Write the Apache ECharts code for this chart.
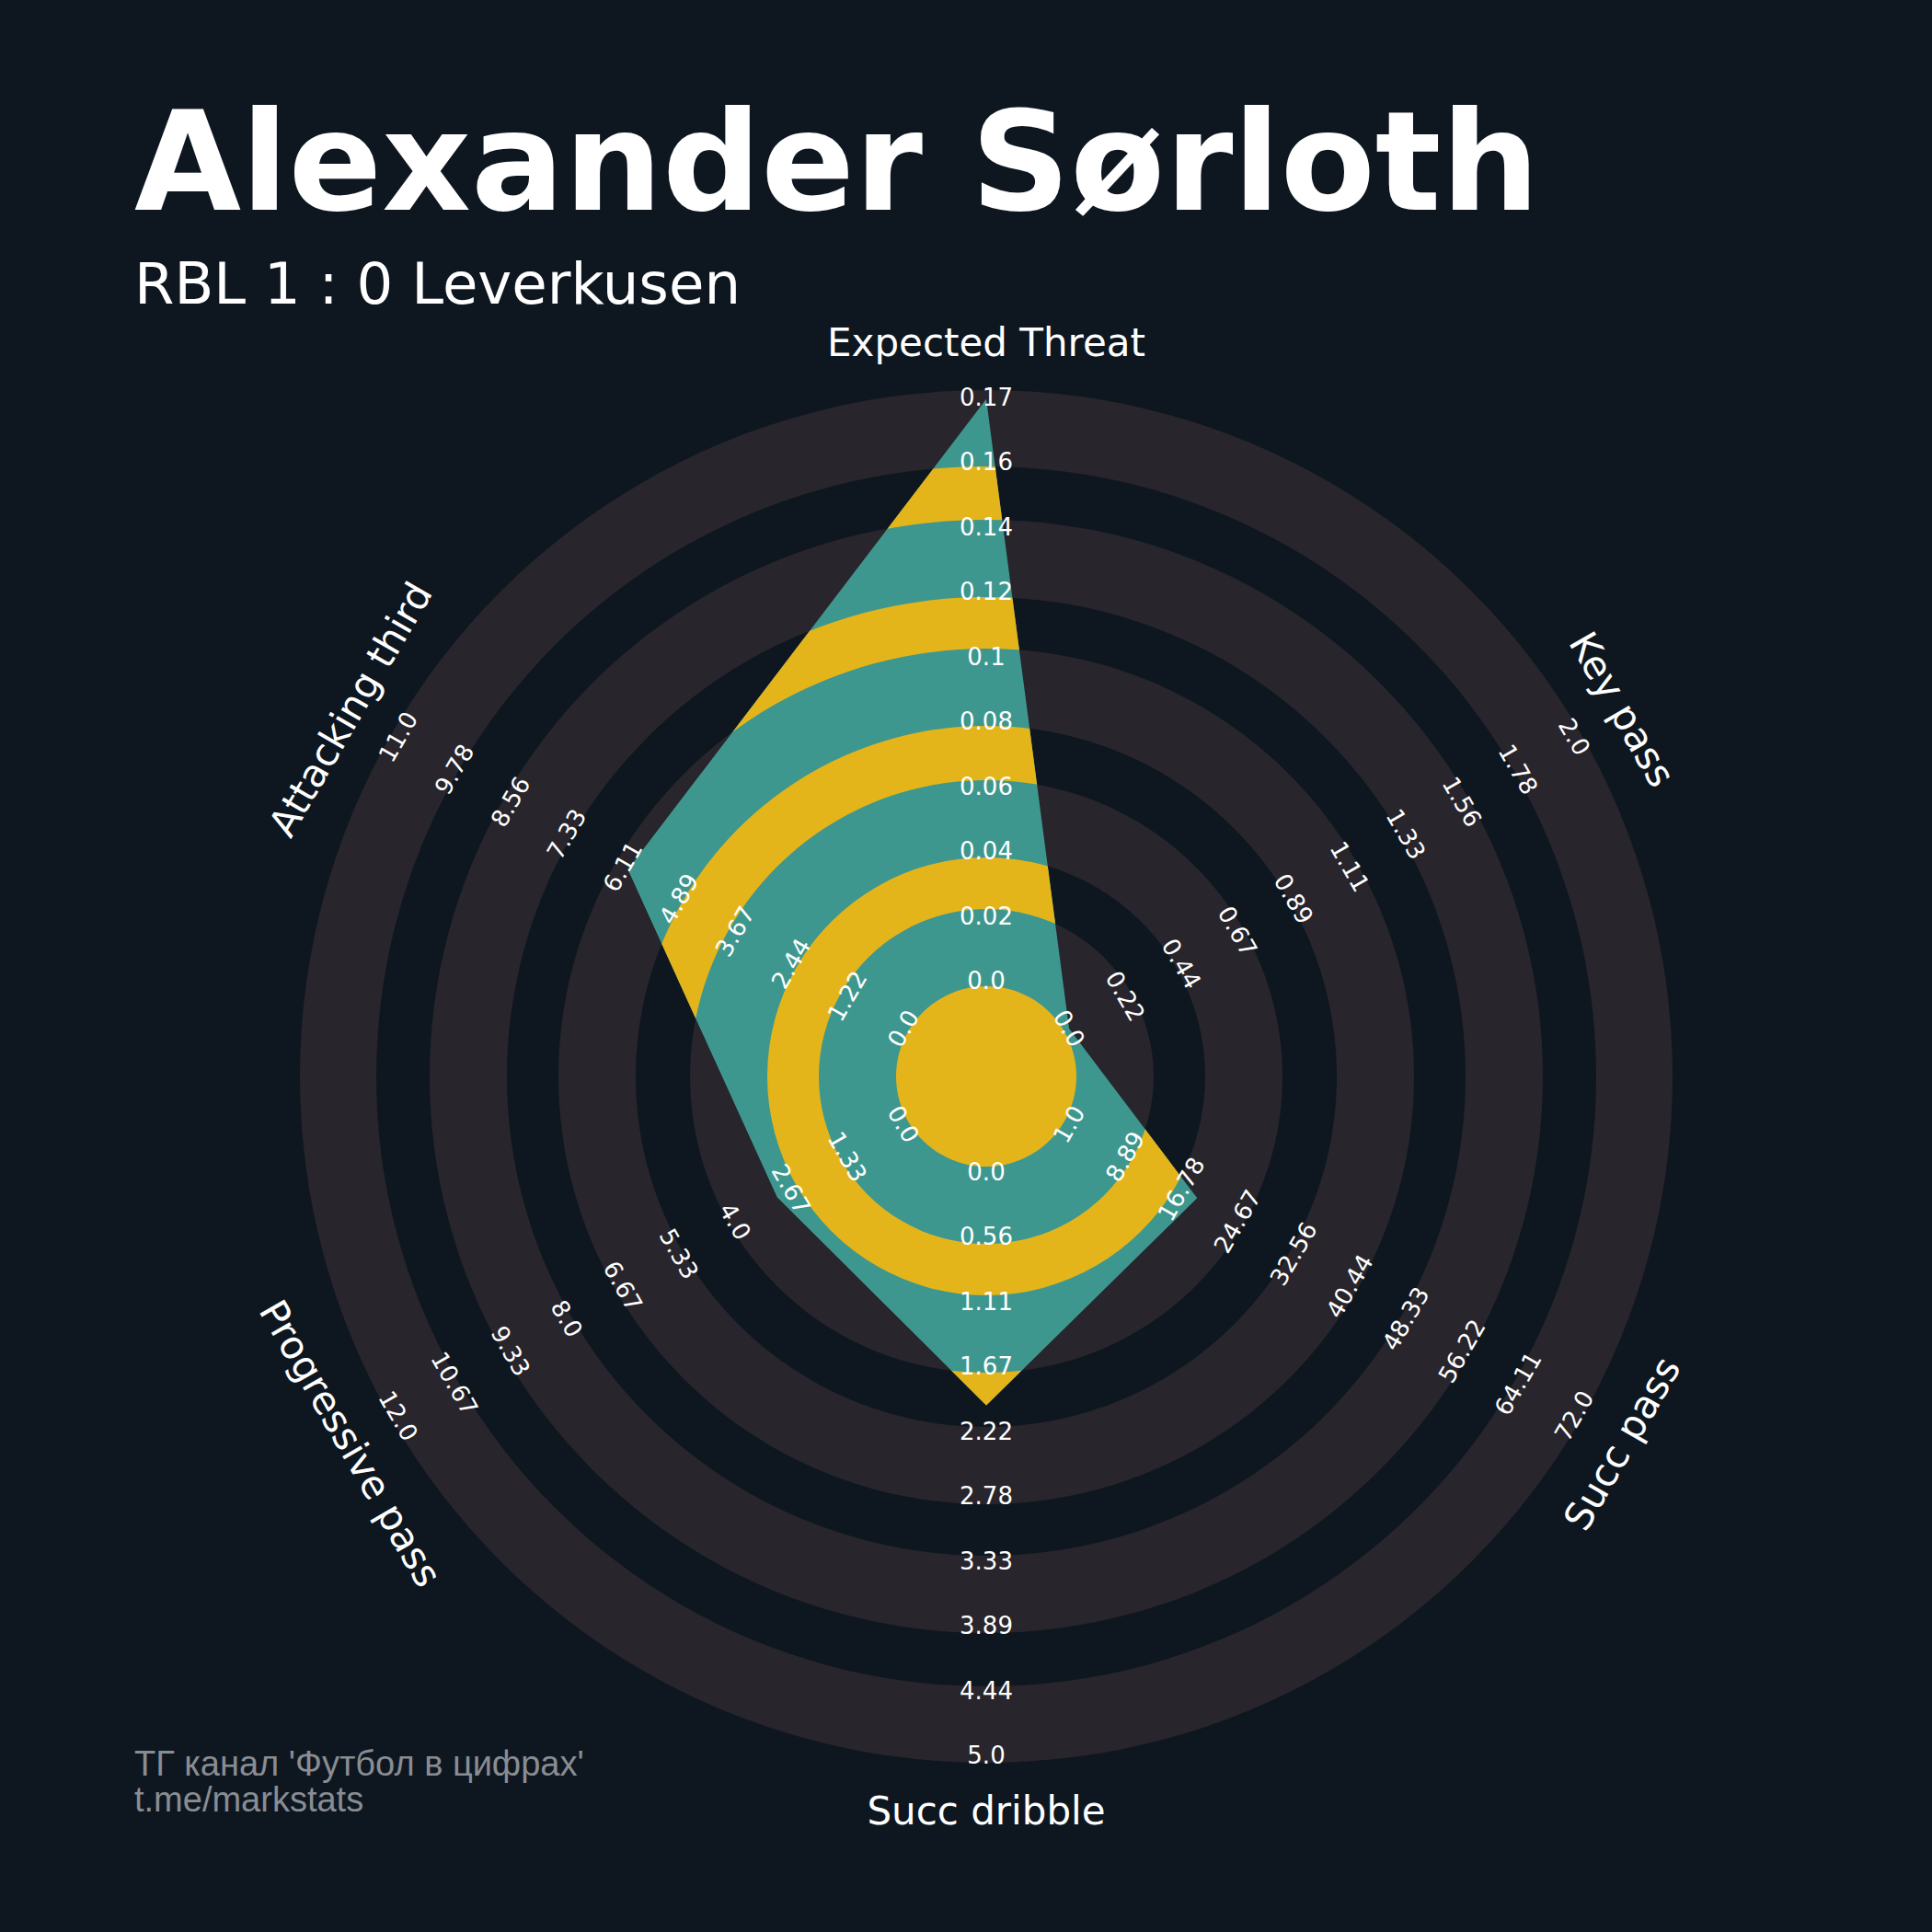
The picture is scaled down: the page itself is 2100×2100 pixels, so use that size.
<!DOCTYPE html>
<html>
<head>
<meta charset="utf-8">
<title>Alexander Sørloth</title>
<script src="https://cdn.jsdelivr.net/npm/echarts@6/dist/echarts.min.js"></script>
<style>
  html, body { margin: 0; padding: 0; background: #0e1720; }
  #chart { width: 2100px; height: 2100px; }
</style>
</head>
<body>
<div id="chart"></div>
<script>
// data
const params = ['Expected Threat', 'Key pass', 'Succ pass', 'Succ dribble', 'Progressive pass', 'Attacking third']
const lows = [0, 0, 1, 0, 0, 0]
const highs = [0.1745, 2, 72, 5, 12, 11]
const values = [0.174, 0, 19, 2, 3, 6]
const labelCount = 10

// layout, in pixels
const CENTER = [1072, 1170]
const R_OUT = 746 // outer edge of the last ring
const R_IN = 104 // where each range minimum sits
const R_MAX = 738 // where each range maximum sits
// centre disc edge, then light / dark band edges
const RING_EDGES = [98, 182, 238, 322, 381, 465, 521, 605, 663, 746]

const BG = '#0e1720'
const RING = '#28252c'
const TEAL = '#3e978f'
const YELLOW = '#e4b51b'
const FONT = 'DejaVu Sans'

const fmt = (v) => {
  const r = Math.round(v * 100) / 100
  return Number.isInteger(r) ? r.toFixed(1) : String(r)
}

const n = params.length
const scaleLo = -R_IN / (R_MAX - R_IN)
const scaleHi = (R_OUT - R_IN) / (R_MAX - R_IN)

// polar 0 carries the shapes (every spoke normalised to 0..1),
// polars 1..n only carry the labelled radius axis of one spoke each
const polar = [{ center: CENTER, radius: R_OUT }]
const angleAxis = [{ polarIndex: 0, type: 'value', min: 0, max: 360, startAngle: 90, clockwise: true, show: false }]
const radiusAxis = [{ polarIndex: 0, type: 'value', min: scaleLo, max: scaleHi, show: false }]

params.forEach((name, i) => {
  const theta = (((90 - i * 360 / n) % 360) + 360) % 360
  const up = Math.sin(theta * Math.PI / 180) > 1e-6
  let rot = up ? theta - 90 : theta + 90
  rot = ((((rot + 180) % 360) + 360) % 360) - 180
  const lo = lows[i]
  const span = highs[i] - lows[i]
  const ticks = []
  for (let k = 0; k < labelCount; k++) ticks.push(lo + span * k / (labelCount - 1))
  polar.push({ center: CENTER, radius: R_OUT })
  angleAxis.push({ polarIndex: i + 1, type: 'value', min: 0, max: 360, startAngle: theta, clockwise: true, show: false })
  radiusAxis.push({
    polarIndex: i + 1,
    type: 'value',
    z: 10,
    min: lo + span * scaleLo,
    max: lo + span * scaleHi,
    axisLine: { show: false },
    axisTick: { show: false },
    splitLine: { show: false },
    splitArea: { show: false },
    axisLabel: {
      customValues: ticks,
      formatter: fmt,
      rotate: rot,
      margin: 0,
      align: 'center',
      verticalAlign: 'middle',
      color: '#ffffff',
      fontSize: 26,
      fontFamily: FONT
    },
    name: name,
    nameLocation: 'end',
    nameGap: 52,
    nameRotate: rot,
    nameTextStyle: {
      color: '#ffffff',
      fontSize: 42,
      fontFamily: FONT,
      align: 'center',
      verticalAlign: 'middle'
    }
  })
})

const chart = echarts.init(document.getElementById('chart'), null, { renderer: 'svg' })

chart.setOption({
  backgroundColor: BG,
  animation: false,
  polar: polar,
  angleAxis: angleAxis,
  radiusAxis: radiusAxis,
  series: [
    {
      // background rings
      type: 'custom',
      coordinateSystem: 'polar',
      polarIndex: 0,
      silent: true,
      z: 1,
      data: [[0, 0]],
      renderItem: (p, api) => {
        const cs = p.coordSys
        const children = []
        for (let k = 0; k + 1 < RING_EDGES.length; k += 2) {
          children.push({ type: 'ring', shape: { cx: cs.cx, cy: cs.cy, r0: RING_EDGES[k], r: RING_EDGES[k + 1] }, style: { fill: RING } })
        }
        return { type: 'group', children: children }
      }
    },
    {
      // player polygon, striped where it crosses the dark bands
      type: 'custom',
      coordinateSystem: 'polar',
      polarIndex: 0,
      silent: true,
      z: 3,
      data: [values.map((v, i) => (v - lows[i]) / (highs[i] - lows[i]))],
      renderItem: (p, api) => {
        const cs = p.coordSys
        const pts = params.map((_, i) => api.coord([api.value(i), i * 360 / n]))
        const children = [{ type: 'polygon', shape: { points: pts }, style: { fill: TEAL } }]
        for (let k = 1; k + 1 < RING_EDGES.length; k += 2) {
          children.push({
            type: 'ring',
            shape: { cx: cs.cx, cy: cs.cy, r0: RING_EDGES[k], r: RING_EDGES[k + 1] },
            style: { fill: YELLOW },
            clipPath: { type: 'polygon', shape: { points: pts } }
          })
        }
        // centre disc sits on top of everything
        children.push({ type: 'circle', shape: { cx: cs.cx, cy: cs.cy, r: RING_EDGES[0] }, style: { fill: YELLOW } })
        return { type: 'group', children: children }
      }
    }
  ],
  graphic: [
    {
      type: 'text', x: 146, y: 176, silent: true,
      style: { text: 'Alexander Sørloth', fill: '#ffffff', fontSize: 150, fontWeight: 'bold', fontFamily: FONT, align: 'left', verticalAlign: 'middle', textAlign: 'left', textVerticalAlign: 'middle' }
    },
    {
      type: 'text', x: 146, y: 308, silent: true,
      style: { text: 'RBL 1 : 0 Leverkusen', fill: '#ffffff', fontSize: 62.5, fontFamily: FONT, align: 'left', verticalAlign: 'middle', textAlign: 'left', textVerticalAlign: 'middle' }
    },
    {
      type: 'text', x: 146, y: 1917, silent: true,
      style: { text: "ТГ канал 'Футбол в цифрах'", fill: '#898d93', fontSize: 38, fontFamily: 'Liberation Sans', align: 'left', verticalAlign: 'middle', textAlign: 'left', textVerticalAlign: 'middle' }
    },
    {
      type: 'text', x: 146, y: 1956, silent: true,
      style: { text: 't.me/markstats', fill: '#898d93', fontSize: 38, fontFamily: 'Liberation Sans', align: 'left', verticalAlign: 'middle', textAlign: 'left', textVerticalAlign: 'middle' }
    }
  ]
})
</script>
</body>
</html>
